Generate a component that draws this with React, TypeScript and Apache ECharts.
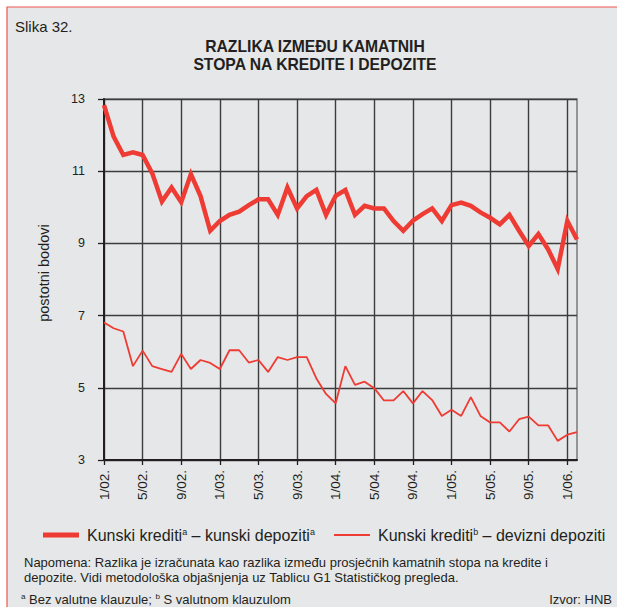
import React, { useEffect, useRef } from "react";
import * as echarts from "echarts";

const categories = [
  "1/02.", "2/02.", "3/02.", "4/02.", "5/02.", "6/02.", "7/02.", "8/02.", "9/02.", "10/02.", "11/02.", "12/02.",
  "1/03.", "2/03.", "3/03.", "4/03.", "5/03.", "6/03.", "7/03.", "8/03.", "9/03.", "10/03.", "11/03.", "12/03.",
  "1/04.", "2/04.", "3/04.", "4/04.", "5/04.", "6/04.", "7/04.", "8/04.", "9/04.", "10/04.", "11/04.", "12/04.",
  "1/05.", "2/05.", "3/05.", "4/05.", "5/05.", "6/05.", "7/05.", "8/05.", "9/05.", "10/05.", "11/05.", "12/05.",
  "1/06.", "2/06.",
];

const kunskiKunski = [
  12.83, 11.96, 11.45, 11.52, 11.45, 10.94, 10.16, 10.55, 10.14, 10.92, 10.31, 9.35,
  9.62, 9.79, 9.88, 10.06, 10.22, 10.22, 9.79, 10.55, 9.97, 10.31, 10.48, 9.79,
  10.32, 10.48, 9.79, 10.04, 9.97, 9.97, 9.62, 9.35, 9.63, 9.81, 9.97, 9.62,
  10.06, 10.13, 10.04, 9.86, 9.71, 9.53, 9.79, 9.35, 8.93, 9.26, 8.84, 8.29,
  9.62, 9.11,
];

const kunskiDevizni = [
  6.81, 6.65, 6.56, 5.6, 6.03, 5.6, 5.52, 5.44, 5.94, 5.52, 5.77, 5.69,
  5.52, 6.04, 6.04, 5.7, 5.77, 5.44, 5.85, 5.77, 5.85, 5.85, 5.26, 4.83,
  4.57, 5.6, 5.08, 5.17, 4.99, 4.65, 4.65, 4.91, 4.57, 4.91, 4.66, 4.22,
  4.39, 4.22, 4.74, 4.22, 4.04, 4.04, 3.79, 4.13, 4.2, 3.96, 3.96, 3.53,
  3.7, 3.77,
];

const yTicks = { min: 3, max: 13, interval: 2 };

const seriesNames = ["Kunski krediti – kunski depoziti", "Kunski krediti – devizni depoziti"];

const FONT = "'Liberation Sans', Arial, Helvetica, sans-serif";
const RED = "#ee3b33";
const TXT = "#231f20";

export default function App() {
  const ref = useRef<HTMLDivElement>(null);
  useEffect(() => {
    if (!ref.current) return;
    const chart = echarts.init(ref.current, undefined, { renderer: "svg" });
    const legendText = {
      fontFamily: FONT,
      fontSize: 16,
      color: TXT,
      padding: [0, 0, 0, 3],
      rich: {
        t: { fontFamily: FONT, fontSize: 16, color: TXT },
        s: { fontFamily: FONT, fontSize: 9, color: TXT, verticalAlign: "top" },
      },
    };
    chart.setOption({
      animation: false,
      backgroundColor: "#ffffff",
      textStyle: { fontFamily: FONT },
      grid: {
        left: 104,
        right: 40,
        top: 99,
        bottom: 147,
        show: true,
        backgroundColor: "transparent",
        borderColor: "#7a7a7a",
        borderWidth: 1.5,
      },
      graphic: [
        {
          type: "rect",
          z: -10,
          shape: { x: 7, y: 7, width: 640, height: 640 },
          style: { fill: "#e6e7e8", stroke: "#f0544c", lineWidth: 1.2 },
        },
        {
          type: "text",
          x: 15,
          y: 26,
          style: { text: "Slika 32.", fontFamily: FONT, fontSize: 15, fill: TXT, textVerticalAlign: "middle" },
        },
        {
          type: "text",
          x: 315,
          y: 46,
          style: {
            text: "RAZLIKA IZMEĐU KAMATNIH",
            fontFamily: FONT,
            fontSize: 15.7,
            fontWeight: "bold",
            fill: TXT,
            textAlign: "center",
            textVerticalAlign: "middle",
          },
        },
        {
          type: "text",
          x: 315,
          y: 64,
          style: {
            text: "STOPA NA KREDITE I DEPOZITE",
            fontFamily: FONT,
            fontSize: 15.7,
            fontWeight: "bold",
            fill: TXT,
            textAlign: "center",
            textVerticalAlign: "middle",
          },
        },
        {
          type: "text",
          x: 44,
          y: 273,
          rotation: Math.PI / 2,
          style: {
            text: "postotni bodovi",
            fontFamily: FONT,
            fontSize: 14.5,
            fill: TXT,
            textAlign: "center",
            textVerticalAlign: "middle",
          },
        },
        {
          type: "text",
          x: 24,
          y: 562,
          style: {
            text: "Napomena: Razlika je izračunata kao razlika između prosječnih kamatnih stopa na kredite i",
            fontFamily: FONT,
            fontSize: 13,
            fill: TXT,
            textVerticalAlign: "middle",
          },
        },
        {
          type: "text",
          x: 24,
          y: 577.5,
          style: {
            text: "depozite. Vidi metodološka objašnjenja uz Tablicu G1 Statističkog pregleda.",
            fontFamily: FONT,
            fontSize: 13,
            fill: TXT,
            textVerticalAlign: "middle",
          },
        },
        {
          type: "text",
          x: 21,
          y: 599,
          style: {
            text: "{s|a} {t|Bez valutne klauzule; }{s|b} {t|S valutnom klauzulom}",
            fontFamily: FONT,
            fontSize: 13,
            fill: TXT,
            textVerticalAlign: "middle",
            rich: {
              t: { fontFamily: FONT, fontSize: 13, fill: TXT },
              s: { fontFamily: FONT, fontSize: 8, fill: TXT, verticalAlign: "top" },
            },
          },
        },
        {
          type: "text",
          x: 612,
          y: 599,
          style: {
            text: "Izvor: HNB",
            fontFamily: FONT,
            fontSize: 13,
            fill: TXT,
            textAlign: "right",
            textVerticalAlign: "middle",
          },
        },
      ],
      legend: [
        {
          data: [seriesNames[0]],
          left: 38,
          top: 522,
          icon: "rect",
          itemWidth: 36,
          itemHeight: 5,
          formatter: () => "{t|Kunski krediti}{s|a}{t| – kunski depoziti}{s|a}",
          textStyle: legendText,
        },
        {
          data: [seriesNames[1]],
          left: 329,
          top: 522,
          icon: "rect",
          itemWidth: 36,
          itemHeight: 2,
          formatter: () => "{t|Kunski krediti}{s|b}{t| – devizni depoziti}",
          textStyle: legendText,
        },
      ],
      xAxis: {
        type: "category",
        data: categories,
        boundaryGap: false,
        axisLine: { lineStyle: { color: "#231f20", width: 2 } },
        axisTick: { interval: 3, length: 5, lineStyle: { color: "#231f20", width: 1.3 } },
        axisLabel: {
          interval: 3,
          rotate: 90,
          margin: 10,
          fontFamily: FONT,
          fontSize: 13.5,
          color: TXT,
        },
        splitLine: { show: true, interval: 3, lineStyle: { color: "#3c3c3c", width: 1.4 } },
      },
      yAxis: {
        type: "value",
        min: yTicks.min,
        max: yTicks.max,
        interval: yTicks.interval,
        axisLine: { show: true, lineStyle: { color: "#231f20", width: 2 } },
        axisTick: { show: true, length: 6, lineStyle: { color: "#231f20", width: 1.3 } },
        axisLabel: { margin: 19, fontFamily: FONT, fontSize: 12.5, color: TXT },
        splitLine: { show: true, lineStyle: { color: "#3c3c3c", width: 1.4 } },
      },
      series: [
        {
          name: seriesNames[0],
          type: "line",
          data: kunskiKunski,
          symbol: "none",
          itemStyle: { color: RED },
          lineStyle: { color: RED, width: 4.5, join: "miter" },
          z: 3,
        },
        {
          name: seriesNames[1],
          type: "line",
          data: kunskiDevizni,
          symbol: "none",
          itemStyle: { color: RED },
          lineStyle: { color: RED, width: 1.8 },
          z: 3,
        },
      ],
    });
    return () => chart.dispose();
  }, []);
  return (
    <div
      ref={ref}
      style={{ position: "absolute", left: 0, top: 0, width: 617, height: 607 }}
    />
  );
}
